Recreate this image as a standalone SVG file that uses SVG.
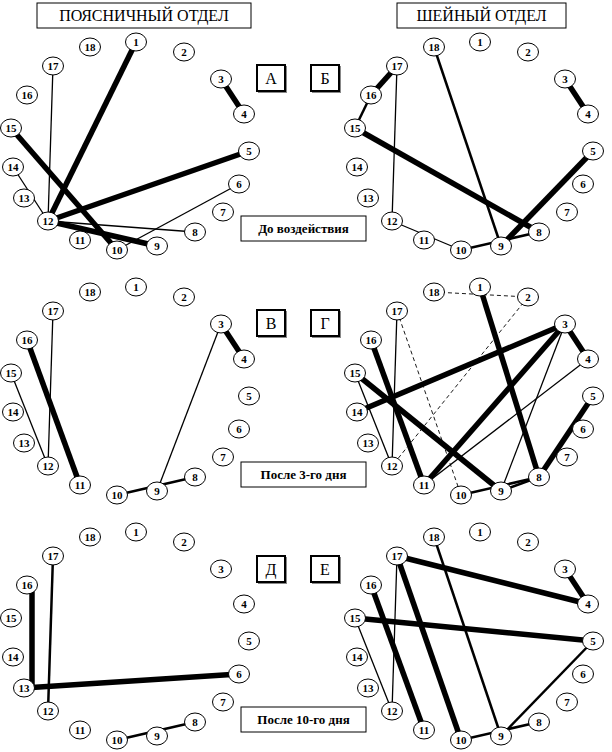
<svg xmlns="http://www.w3.org/2000/svg" width="612" height="752" viewBox="0 0 612 752">
<style>
.n{fill:#fff;stroke:#000;stroke-width:1}
.t{font-family:"Liberation Serif","Times New Roman","DejaVu Serif",serif;font-weight:bold;font-size:11px;text-anchor:middle}
.k{stroke:#000;stroke-width:5.5;fill:none}
.m{stroke:#000;stroke-width:2.5;fill:none}
.h{stroke:#000;stroke-width:1.3;fill:none}
.d{stroke:#000;stroke-width:0.9;stroke-dasharray:4 3;fill:none}
.box{fill:#fff;stroke:#000;stroke-width:1}
.lbox{fill:#fff;stroke:#000;stroke-width:2}
.sh{fill:#888}
.title{font-family:"Liberation Serif","Times New Roman","DejaVu Serif",serif;font-size:16px;text-anchor:middle}
.let{font-family:"Liberation Serif","Times New Roman","DejaVu Serif",serif;font-size:16px;text-anchor:middle}
.cap{font-family:"Liberation Serif","Times New Roman","DejaVu Serif",serif;font-weight:bold;font-size:13px;text-anchor:middle}
</style>
<rect width="612" height="752" fill="#fff"/>

<g id="headers">
<rect class="box" x="37" y="3" width="214" height="25"/>
<text class="title" x="144" y="21">ПОЯСНИЧНЫЙ ОТДЕЛ</text>
<rect class="box" x="397" y="3" width="169" height="25"/>
<text class="title" x="481.5" y="21">ШЕЙНЫЙ ОТДЕЛ</text>
</g>

<g id="letters">
<rect class="sh" x="258" y="66" width="29" height="27"/><rect class="lbox" x="257" y="65" width="28" height="26"/><text class="let" x="271" y="84">А</text>
<rect class="sh" x="312" y="66" width="29" height="27"/><rect class="lbox" x="311" y="65" width="28" height="26"/><text class="let" x="325" y="84">Б</text>
<rect class="sh" x="258" y="311" width="29" height="27"/><rect class="lbox" x="257" y="310" width="28" height="26"/><text class="let" x="271" y="329">В</text>
<rect class="sh" x="312" y="311" width="29" height="27"/><rect class="lbox" x="311" y="310" width="28" height="26"/><text class="let" x="325" y="329">Г</text>
<rect class="sh" x="258" y="557" width="29" height="27"/><rect class="lbox" x="257" y="556" width="28" height="26"/><text class="let" x="271" y="575">Д</text>
<rect class="sh" x="312" y="557" width="29" height="27"/><rect class="lbox" x="311" y="556" width="28" height="26"/><text class="let" x="325" y="575">Е</text>
</g>

<g id="captions">
<rect class="box" x="241" y="216" width="125" height="25"/><text class="cap" x="303.5" y="233">До воздействия</text>
<rect class="box" x="241" y="462" width="125" height="25"/><text class="cap" x="303.5" y="479">После 3-го дня</text>
<rect class="box" x="241" y="707" width="125" height="25"/><text class="cap" x="303.5" y="724">После 10-го дня</text>
</g>

<g id="connectors">
<g id="conn-A">
<line class="k" x1="136" y1="42" x2="48" y2="221"/>
<line class="k" x1="249" y1="151" x2="48" y2="221"/>
<line class="k" x1="11" y1="128" x2="117" y2="250"/>
<line class="k" x1="48" y1="221" x2="157" y2="246"/>
<line class="k" x1="221" y1="79" x2="244" y2="114"/>
<line class="h" x1="53" y1="66" x2="48" y2="221"/>
<line class="h" x1="13" y1="167" x2="48" y2="221"/>
<line class="h" x1="48" y1="221" x2="195" y2="232"/>
<line class="h" x1="239" y1="184" x2="117" y2="250"/>
</g>
<g id="conn-B" transform="translate(344,0)">
<line class="k" x1="53" y1="66" x2="27" y2="95"/>
<line class="m" x1="27" y1="95" x2="11" y2="128"/>
<line class="h" x1="53" y1="66" x2="48" y2="221"/>
<line class="h" x1="48" y1="221" x2="117" y2="250"/>
<line class="m" x1="117" y1="250" x2="195" y2="232"/>
<line class="m" x1="90" y1="47" x2="157" y2="246"/>
<line class="k" x1="11" y1="128" x2="195" y2="232"/>
<line class="k" x1="249" y1="151" x2="157" y2="246"/>
<line class="k" x1="221" y1="79" x2="244" y2="114"/>
</g>
<g id="conn-C" transform="translate(0,245)">
<line class="h" x1="53" y1="66" x2="48" y2="221"/>
<line class="h" x1="11" y1="128" x2="48" y2="221"/>
<line class="k" x1="27" y1="95" x2="80" y2="240"/>
<line class="k" x1="221" y1="79" x2="244" y2="114"/>
<line class="h" x1="221" y1="79" x2="157" y2="246"/>
<line class="m" x1="117" y1="250" x2="195" y2="232"/>
</g>
<g id="conn-D" transform="translate(344,245)">
<line class="d" x1="90" y1="47" x2="184" y2="52"/>
<line class="d" x1="184" y1="52" x2="48" y2="221"/>
<line class="d" x1="53" y1="66" x2="117" y2="250"/>
<line class="h" x1="53" y1="66" x2="48" y2="221"/>
<line class="h" x1="11" y1="128" x2="48" y2="221"/>
<line class="k" x1="136" y1="42" x2="195" y2="232"/>
<line class="k" x1="221" y1="79" x2="13" y2="167"/>
<line class="k" x1="221" y1="79" x2="80" y2="240"/>
<line class="h" x1="221" y1="79" x2="157" y2="246"/>
<line class="k" x1="221" y1="79" x2="244" y2="114"/>
<line class="h" x1="244" y1="114" x2="80" y2="240"/>
<line class="k" x1="249" y1="151" x2="195" y2="232"/>
<line class="k" x1="27" y1="95" x2="80" y2="240"/>
<line class="k" x1="11" y1="128" x2="157" y2="246"/>
<line class="m" x1="117" y1="250" x2="195" y2="232"/>
<line class="m" x1="157" y1="246" x2="195" y2="232"/>
</g>
<g id="conn-E" transform="translate(0,490)">
<line class="m" x1="53" y1="66" x2="48" y2="221"/>
<line class="k" x1="32" y1="95" x2="32" y2="198"/>
<line class="k" x1="24" y1="198" x2="239" y2="184"/>
<line class="m" x1="117" y1="250" x2="195" y2="232"/>
</g>
<g id="conn-F" transform="translate(344,490)">
<line class="m" x1="90" y1="47" x2="157" y2="246"/>
<line class="k" x1="53" y1="66" x2="244" y2="114"/>
<line class="k" x1="53" y1="66" x2="117" y2="250"/>
<line class="h" x1="53" y1="66" x2="48" y2="221"/>
<line class="k" x1="27" y1="95" x2="80" y2="240"/>
<line class="k" x1="11" y1="128" x2="249" y2="151"/>
<line class="h" x1="11" y1="128" x2="48" y2="221"/>
<line class="k" x1="221" y1="79" x2="244" y2="114"/>
<line class="m" x1="249" y1="151" x2="157" y2="246"/>
<line class="m" x1="117" y1="250" x2="195" y2="232"/>
</g>
</g>

<g id="panel-A">
<g id="A1" transform="translate(136,42)"><ellipse class="n" rx="10.5" ry="9"/><text class="t" y="4">1</text></g>
<g id="A2" transform="translate(184,52)"><ellipse class="n" rx="10.5" ry="9"/><text class="t" y="4">2</text></g>
<g id="A3" transform="translate(221,79)"><ellipse class="n" rx="10.5" ry="9"/><text class="t" y="4">3</text></g>
<g id="A4" transform="translate(244,114)"><ellipse class="n" rx="10.5" ry="9"/><text class="t" y="4">4</text></g>
<g id="A5" transform="translate(249,151)"><ellipse class="n" rx="10.5" ry="9"/><text class="t" y="4">5</text></g>
<g id="A6" transform="translate(239,184)"><ellipse class="n" rx="10.5" ry="9"/><text class="t" y="4">6</text></g>
<g id="A7" transform="translate(223,212)"><ellipse class="n" rx="10.5" ry="9"/><text class="t" y="4">7</text></g>
<g id="A8" transform="translate(195,232)"><ellipse class="n" rx="10.5" ry="9"/><text class="t" y="4">8</text></g>
<g id="A9" transform="translate(157,246)"><ellipse class="n" rx="10.5" ry="9"/><text class="t" y="4">9</text></g>
<g id="A10" transform="translate(117,250)"><ellipse class="n" rx="10.5" ry="9"/><text class="t" y="4">10</text></g>
<g id="A11" transform="translate(80,240)"><ellipse class="n" rx="10.5" ry="9"/><text class="t" y="4">11</text></g>
<g id="A12" transform="translate(48,221)"><ellipse class="n" rx="10.5" ry="9"/><text class="t" y="4">12</text></g>
<g id="A13" transform="translate(24,198)"><ellipse class="n" rx="10.5" ry="9"/><text class="t" y="4">13</text></g>
<g id="A14" transform="translate(13,167)"><ellipse class="n" rx="10.5" ry="9"/><text class="t" y="4">14</text></g>
<g id="A15" transform="translate(11,128)"><ellipse class="n" rx="10.5" ry="9"/><text class="t" y="4">15</text></g>
<g id="A16" transform="translate(27,95)"><ellipse class="n" rx="10.5" ry="9"/><text class="t" y="4">16</text></g>
<g id="A17" transform="translate(53,66)"><ellipse class="n" rx="10.5" ry="9"/><text class="t" y="4">17</text></g>
<g id="A18" transform="translate(90,47)"><ellipse class="n" rx="10.5" ry="9"/><text class="t" y="4">18</text></g>
</g>

<g id="panel-B" transform="translate(344,0)">
<g id="B1" transform="translate(136,42)"><ellipse class="n" rx="10.5" ry="9"/><text class="t" y="4">1</text></g>
<g id="B2" transform="translate(184,52)"><ellipse class="n" rx="10.5" ry="9"/><text class="t" y="4">2</text></g>
<g id="B3" transform="translate(221,79)"><ellipse class="n" rx="10.5" ry="9"/><text class="t" y="4">3</text></g>
<g id="B4" transform="translate(244,114)"><ellipse class="n" rx="10.5" ry="9"/><text class="t" y="4">4</text></g>
<g id="B5" transform="translate(249,151)"><ellipse class="n" rx="10.5" ry="9"/><text class="t" y="4">5</text></g>
<g id="B6" transform="translate(239,184)"><ellipse class="n" rx="10.5" ry="9"/><text class="t" y="4">6</text></g>
<g id="B7" transform="translate(223,212)"><ellipse class="n" rx="10.5" ry="9"/><text class="t" y="4">7</text></g>
<g id="B8" transform="translate(195,232)"><ellipse class="n" rx="10.5" ry="9"/><text class="t" y="4">8</text></g>
<g id="B9" transform="translate(157,246)"><ellipse class="n" rx="10.5" ry="9"/><text class="t" y="4">9</text></g>
<g id="B10" transform="translate(117,250)"><ellipse class="n" rx="10.5" ry="9"/><text class="t" y="4">10</text></g>
<g id="B11" transform="translate(80,240)"><ellipse class="n" rx="10.5" ry="9"/><text class="t" y="4">11</text></g>
<g id="B12" transform="translate(48,221)"><ellipse class="n" rx="10.5" ry="9"/><text class="t" y="4">12</text></g>
<g id="B13" transform="translate(24,198)"><ellipse class="n" rx="10.5" ry="9"/><text class="t" y="4">13</text></g>
<g id="B14" transform="translate(13,167)"><ellipse class="n" rx="10.5" ry="9"/><text class="t" y="4">14</text></g>
<g id="B15" transform="translate(11,128)"><ellipse class="n" rx="10.5" ry="9"/><text class="t" y="4">15</text></g>
<g id="B16" transform="translate(27,95)"><ellipse class="n" rx="10.5" ry="9"/><text class="t" y="4">16</text></g>
<g id="B17" transform="translate(53,66)"><ellipse class="n" rx="10.5" ry="9"/><text class="t" y="4">17</text></g>
<g id="B18" transform="translate(90,47)"><ellipse class="n" rx="10.5" ry="9"/><text class="t" y="4">18</text></g>
</g>

<g id="panel-C" transform="translate(0,245)">
<g id="C1" transform="translate(136,42)"><ellipse class="n" rx="10.5" ry="9"/><text class="t" y="4">1</text></g>
<g id="C2" transform="translate(184,52)"><ellipse class="n" rx="10.5" ry="9"/><text class="t" y="4">2</text></g>
<g id="C3" transform="translate(221,79)"><ellipse class="n" rx="10.5" ry="9"/><text class="t" y="4">3</text></g>
<g id="C4" transform="translate(244,114)"><ellipse class="n" rx="10.5" ry="9"/><text class="t" y="4">4</text></g>
<g id="C5" transform="translate(249,151)"><ellipse class="n" rx="10.5" ry="9"/><text class="t" y="4">5</text></g>
<g id="C6" transform="translate(239,184)"><ellipse class="n" rx="10.5" ry="9"/><text class="t" y="4">6</text></g>
<g id="C7" transform="translate(223,212)"><ellipse class="n" rx="10.5" ry="9"/><text class="t" y="4">7</text></g>
<g id="C8" transform="translate(195,232)"><ellipse class="n" rx="10.5" ry="9"/><text class="t" y="4">8</text></g>
<g id="C9" transform="translate(157,246)"><ellipse class="n" rx="10.5" ry="9"/><text class="t" y="4">9</text></g>
<g id="C10" transform="translate(117,250)"><ellipse class="n" rx="10.5" ry="9"/><text class="t" y="4">10</text></g>
<g id="C11" transform="translate(80,240)"><ellipse class="n" rx="10.5" ry="9"/><text class="t" y="4">11</text></g>
<g id="C12" transform="translate(48,221)"><ellipse class="n" rx="10.5" ry="9"/><text class="t" y="4">12</text></g>
<g id="C13" transform="translate(24,198)"><ellipse class="n" rx="10.5" ry="9"/><text class="t" y="4">13</text></g>
<g id="C14" transform="translate(13,167)"><ellipse class="n" rx="10.5" ry="9"/><text class="t" y="4">14</text></g>
<g id="C15" transform="translate(11,128)"><ellipse class="n" rx="10.5" ry="9"/><text class="t" y="4">15</text></g>
<g id="C16" transform="translate(27,95)"><ellipse class="n" rx="10.5" ry="9"/><text class="t" y="4">16</text></g>
<g id="C17" transform="translate(53,66)"><ellipse class="n" rx="10.5" ry="9"/><text class="t" y="4">17</text></g>
<g id="C18" transform="translate(90,47)"><ellipse class="n" rx="10.5" ry="9"/><text class="t" y="4">18</text></g>
</g>

<g id="panel-D" transform="translate(344,245)">
<g id="D1" transform="translate(136,42)"><ellipse class="n" rx="10.5" ry="9"/><text class="t" y="4">1</text></g>
<g id="D2" transform="translate(184,52)"><ellipse class="n" rx="10.5" ry="9"/><text class="t" y="4">2</text></g>
<g id="D3" transform="translate(221,79)"><ellipse class="n" rx="10.5" ry="9"/><text class="t" y="4">3</text></g>
<g id="D4" transform="translate(244,114)"><ellipse class="n" rx="10.5" ry="9"/><text class="t" y="4">4</text></g>
<g id="D5" transform="translate(249,151)"><ellipse class="n" rx="10.5" ry="9"/><text class="t" y="4">5</text></g>
<g id="D6" transform="translate(239,184)"><ellipse class="n" rx="10.5" ry="9"/><text class="t" y="4">6</text></g>
<g id="D7" transform="translate(223,212)"><ellipse class="n" rx="10.5" ry="9"/><text class="t" y="4">7</text></g>
<g id="D8" transform="translate(195,232)"><ellipse class="n" rx="10.5" ry="9"/><text class="t" y="4">8</text></g>
<g id="D9" transform="translate(157,246)"><ellipse class="n" rx="10.5" ry="9"/><text class="t" y="4">9</text></g>
<g id="D10" transform="translate(117,250)"><ellipse class="n" rx="10.5" ry="9"/><text class="t" y="4">10</text></g>
<g id="D11" transform="translate(80,240)"><ellipse class="n" rx="10.5" ry="9"/><text class="t" y="4">11</text></g>
<g id="D12" transform="translate(48,221)"><ellipse class="n" rx="10.5" ry="9"/><text class="t" y="4">12</text></g>
<g id="D13" transform="translate(24,198)"><ellipse class="n" rx="10.5" ry="9"/><text class="t" y="4">13</text></g>
<g id="D14" transform="translate(13,167)"><ellipse class="n" rx="10.5" ry="9"/><text class="t" y="4">14</text></g>
<g id="D15" transform="translate(11,128)"><ellipse class="n" rx="10.5" ry="9"/><text class="t" y="4">15</text></g>
<g id="D16" transform="translate(27,95)"><ellipse class="n" rx="10.5" ry="9"/><text class="t" y="4">16</text></g>
<g id="D17" transform="translate(53,66)"><ellipse class="n" rx="10.5" ry="9"/><text class="t" y="4">17</text></g>
<g id="D18" transform="translate(90,47)"><ellipse class="n" rx="10.5" ry="9"/><text class="t" y="4">18</text></g>
</g>

<g id="panel-E" transform="translate(0,490)">
<g id="E1" transform="translate(136,42)"><ellipse class="n" rx="10.5" ry="9"/><text class="t" y="4">1</text></g>
<g id="E2" transform="translate(184,52)"><ellipse class="n" rx="10.5" ry="9"/><text class="t" y="4">2</text></g>
<g id="E3" transform="translate(221,79)"><ellipse class="n" rx="10.5" ry="9"/><text class="t" y="4">3</text></g>
<g id="E4" transform="translate(244,114)"><ellipse class="n" rx="10.5" ry="9"/><text class="t" y="4">4</text></g>
<g id="E5" transform="translate(249,151)"><ellipse class="n" rx="10.5" ry="9"/><text class="t" y="4">5</text></g>
<g id="E6" transform="translate(239,184)"><ellipse class="n" rx="10.5" ry="9"/><text class="t" y="4">6</text></g>
<g id="E7" transform="translate(223,212)"><ellipse class="n" rx="10.5" ry="9"/><text class="t" y="4">7</text></g>
<g id="E8" transform="translate(195,232)"><ellipse class="n" rx="10.5" ry="9"/><text class="t" y="4">8</text></g>
<g id="E9" transform="translate(157,246)"><ellipse class="n" rx="10.5" ry="9"/><text class="t" y="4">9</text></g>
<g id="E10" transform="translate(117,250)"><ellipse class="n" rx="10.5" ry="9"/><text class="t" y="4">10</text></g>
<g id="E11" transform="translate(80,240)"><ellipse class="n" rx="10.5" ry="9"/><text class="t" y="4">11</text></g>
<g id="E12" transform="translate(48,221)"><ellipse class="n" rx="10.5" ry="9"/><text class="t" y="4">12</text></g>
<g id="E13" transform="translate(24,198)"><ellipse class="n" rx="10.5" ry="9"/><text class="t" y="4">13</text></g>
<g id="E14" transform="translate(13,167)"><ellipse class="n" rx="10.5" ry="9"/><text class="t" y="4">14</text></g>
<g id="E15" transform="translate(11,128)"><ellipse class="n" rx="10.5" ry="9"/><text class="t" y="4">15</text></g>
<g id="E16" transform="translate(27,95)"><ellipse class="n" rx="10.5" ry="9"/><text class="t" y="4">16</text></g>
<g id="E17" transform="translate(53,66)"><ellipse class="n" rx="10.5" ry="9"/><text class="t" y="4">17</text></g>
<g id="E18" transform="translate(90,47)"><ellipse class="n" rx="10.5" ry="9"/><text class="t" y="4">18</text></g>
</g>

<g id="panel-F" transform="translate(344,490)">
<g id="F1" transform="translate(136,42)"><ellipse class="n" rx="10.5" ry="9"/><text class="t" y="4">1</text></g>
<g id="F2" transform="translate(184,52)"><ellipse class="n" rx="10.5" ry="9"/><text class="t" y="4">2</text></g>
<g id="F3" transform="translate(221,79)"><ellipse class="n" rx="10.5" ry="9"/><text class="t" y="4">3</text></g>
<g id="F4" transform="translate(244,114)"><ellipse class="n" rx="10.5" ry="9"/><text class="t" y="4">4</text></g>
<g id="F5" transform="translate(249,151)"><ellipse class="n" rx="10.5" ry="9"/><text class="t" y="4">5</text></g>
<g id="F6" transform="translate(239,184)"><ellipse class="n" rx="10.5" ry="9"/><text class="t" y="4">6</text></g>
<g id="F7" transform="translate(223,212)"><ellipse class="n" rx="10.5" ry="9"/><text class="t" y="4">7</text></g>
<g id="F8" transform="translate(195,232)"><ellipse class="n" rx="10.5" ry="9"/><text class="t" y="4">8</text></g>
<g id="F9" transform="translate(157,246)"><ellipse class="n" rx="10.5" ry="9"/><text class="t" y="4">9</text></g>
<g id="F10" transform="translate(117,250)"><ellipse class="n" rx="10.5" ry="9"/><text class="t" y="4">10</text></g>
<g id="F11" transform="translate(80,240)"><ellipse class="n" rx="10.5" ry="9"/><text class="t" y="4">11</text></g>
<g id="F12" transform="translate(48,221)"><ellipse class="n" rx="10.5" ry="9"/><text class="t" y="4">12</text></g>
<g id="F13" transform="translate(24,198)"><ellipse class="n" rx="10.5" ry="9"/><text class="t" y="4">13</text></g>
<g id="F14" transform="translate(13,167)"><ellipse class="n" rx="10.5" ry="9"/><text class="t" y="4">14</text></g>
<g id="F15" transform="translate(11,128)"><ellipse class="n" rx="10.5" ry="9"/><text class="t" y="4">15</text></g>
<g id="F16" transform="translate(27,95)"><ellipse class="n" rx="10.5" ry="9"/><text class="t" y="4">16</text></g>
<g id="F17" transform="translate(53,66)"><ellipse class="n" rx="10.5" ry="9"/><text class="t" y="4">17</text></g>
<g id="F18" transform="translate(90,47)"><ellipse class="n" rx="10.5" ry="9"/><text class="t" y="4">18</text></g>
</g>
</svg>
